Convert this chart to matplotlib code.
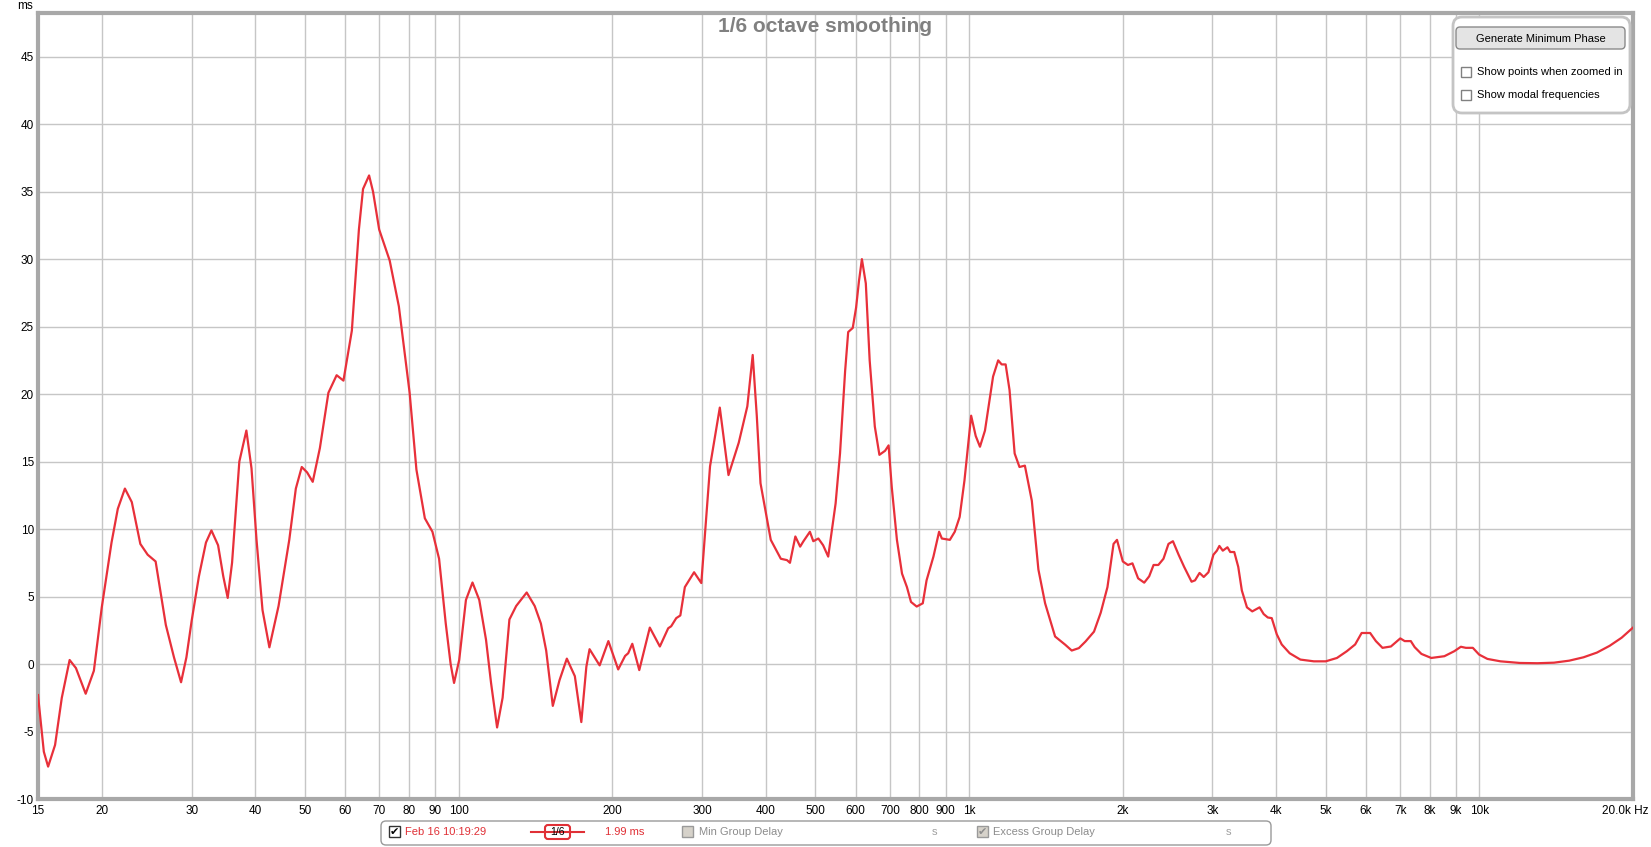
import numpy as np
import matplotlib
matplotlib.use("Agg")
import matplotlib.pyplot as plt
from matplotlib.patches import FancyBboxPatch, Rectangle

plt.rcParams['font.family'] = ['Liberation Sans', 'DejaVu Sans']
plt.rcParams['axes.unicode_minus'] = False

# group delay curve (Hz, ms)
freq = [15, 15.4, 15.7, 16.2, 16.7, 17.3, 17.8, 18.6, 19.3, 20, 20.9, 21.5, 22.2, 22.9, 23.8,
        24.6, 25.5, 26.7, 27.7, 28.6, 29.3, 30, 31, 32, 32.8, 33.8, 34.6, 35.3, 36, 37.2,
        38.4, 39.3, 40.2, 41.3, 42.6, 44.4, 46.6, 48, 49.3, 50.5, 51.8, 53.5, 55.6, 57.7,
        59.5, 61.8, 63.8, 65, 66.8, 68, 69.9, 73.3, 76.4, 80.2, 82.7, 85.9, 88.9, 91.6,
        94.4, 96.5, 98, 100.3, 103.4, 106.5, 109.8, 113.2, 115.8, 119, 122, 125.8, 129.7,
        136, 141, 145, 148.5, 153, 157.7, 163, 169, 174, 178, 180.6, 189, 196.6, 205.5,
        212, 215, 219, 226, 237, 248, 257.5, 261, 267, 272, 277.6, 289.4, 299, 311, 325,
        338, 354, 368, 377, 384, 390.5, 409, 428, 440, 446, 457, 467, 474, 488, 495.5,
        507, 518, 530, 548, 559, 572, 580, 592, 601, 609, 617, 628, 639, 654, 667.7, 685,
        696, 706, 722.6, 739.4, 756, 770, 790, 812, 826, 852, 874, 885, 917.5, 938, 959,
        980, 1010, 1031, 1051, 1075, 1115, 1141, 1159, 1180, 1201, 1229, 1256, 1287, 1328,
        1368, 1410, 1475, 1544, 1590, 1642, 1692, 1758, 1812, 1868, 1920, 1950, 2002,
        2049, 2091, 2145, 2205, 2255, 2300, 2350, 2405, 2460, 2510, 2575, 2640, 2730,
        2773, 2830, 2884, 2946, 3013, 3060, 3095, 3143, 3210, 3250, 3310, 3370, 3425,
        3505, 3590, 3710, 3780, 3850, 3920, 4010, 4100, 4250, 4460, 4740, 5000, 5260,
        5500, 5710, 5880, 6110, 6270, 6460, 6710, 7000, 7140, 7340, 7470, 7700, 8050,
        8540, 8930, 9200, 9410, 9710, 9990, 10370, 11000, 12000, 13000, 14000, 15000,
        16000, 17000, 18000, 19000, 20000]
delay = [-2.3, -6.5, -7.6, -6.0, -2.5, 0.3, -0.3, -2.2, -0.5, 4.2, 9.0, 11.5, 13.0, 12.0, 8.9,
         8.1, 7.6, 2.9, 0.5, -1.35, 0.5, 3.2, 6.5, 9.0, 9.9, 8.8, 6.5, 4.9, 7.5, 15.0,
         17.3, 14.5, 9.2, 4.0, 1.24, 4.3, 9.2, 13.0, 14.6, 14.2, 13.5, 16.0, 20.1, 21.4,
         21.0, 24.7, 32.2, 35.2, 36.2, 35.0, 32.2, 29.9, 26.5, 20.1, 14.4, 10.8, 9.8, 7.8,
         3.0, 0.0, -1.4, 0.3, 4.75, 6.04, 4.75, 1.8, -1.4, -4.7, -2.5, 3.3, 4.3,
         5.3, 4.3, 3.0, 1.0, -3.1, -1.2, 0.4, -0.9, -4.3, -0.2, 1.1, -0.1, 1.7, -0.4,
         0.6, 0.8, 1.5, -0.45, 2.7, 1.3, 2.65, 2.8, 3.4, 3.6, 5.7, 6.8, 6.0, 14.65, 19.0,
         14.0, 16.4, 19.1, 22.9, 18.4, 13.4, 9.2, 7.8, 7.7, 7.5, 9.45, 8.7, 9.1, 9.8, 9.1,
         9.3, 8.8, 7.96, 11.9, 15.6, 21.7, 24.6, 24.9, 26.4, 28.4, 30.0, 28.2, 22.5, 17.6, 15.5, 15.8,
         16.2, 13.1, 9.2, 6.7, 5.7, 4.6, 4.26, 4.5, 6.2, 7.96, 9.8, 9.3, 9.2, 9.8, 10.9,
         13.6, 18.4, 16.9, 16.1, 17.3, 21.3, 22.5, 22.2, 22.2, 20.3, 15.6, 14.6, 14.7, 12.1,
         7.0, 4.5, 2.04, 1.43, 1.0, 1.18, 1.67, 2.4, 3.8, 5.7, 8.9, 9.2, 7.6,
         7.34, 7.46, 6.35, 6.03, 6.5, 7.34, 7.34, 7.8, 8.9, 9.1, 8.1, 7.2, 6.1,
         6.2, 6.75, 6.45, 6.8, 8.1, 8.4, 8.75, 8.4, 8.65, 8.3, 8.3, 7.2, 5.45,
         4.2, 3.9, 4.2, 3.7, 3.45, 3.4, 2.2, 1.45, 0.8, 0.33, 0.2, 0.2, 0.45,
         0.95, 1.45, 2.3, 2.3, 1.7, 1.2, 1.3, 1.9, 1.7, 1.7, 1.25, 0.75, 0.45,
         0.58, 0.95, 1.28, 1.2, 1.2, 0.7, 0.38, 0.2, 0.08, 0.06, 0.1, 0.25,
         0.5, 0.85, 1.35, 1.95, 2.7]

xticks = [15, 20, 30, 40, 50, 60, 70, 80, 90, 100, 200, 300, 400, 500, 600, 700, 800, 900,
          1000, 2000, 3000, 4000, 5000, 6000, 7000, 8000, 9000, 10000]
xlabels = ['15', '20', '30', '40', '50', '60', '70', '80', '90', '100', '200', '300', '400',
           '500', '600', '700', '800', '900', '1k', '2k', '3k', '4k', '5k', '6k', '7k', '8k',
           '9k', '10k']
yticks = list(range(-10, 50, 5))

W, H = 1651, 847
fig = plt.figure(figsize=(W / 100, H / 100), dpi=100)

L, R, T, B = 38, 1633, 13.5, 799
ax = fig.add_axes([L / W, 1 - B / H, (R - L) / W, (B - T) / H])
ax.set_xscale('log')
ax.set_xlim(15, 20000)
ax.set_ylim(-10, 48.2)
ax.plot(freq, delay, color='#e8303a', lw=1.6, zorder=3, solid_joinstyle='round')

ax.set_xticks(xticks)
ax.set_xticklabels(xlabels)
ax.minorticks_off()
ax.set_yticks(yticks)
ax.grid(True, color='#c6c6c6', lw=1)
ax.tick_params(length=0, labelsize=8.5, colors='black', pad=4)
ax.tick_params(axis='y', pad=3)
for s in ax.spines.values():
    s.set_color('#a8a8a8')
    s.set_linewidth(3)

# overlay in pixel coords for the texts and widgets
ov = fig.add_axes([0, 0, 1, 1])
ov.set_xlim(0, W)
ov.set_ylim(H, 0)
ov.axis('off')

ov.text(33, 6, 'ms', ha='right', va='center', fontsize=8.5)
ov.text(1649, 811, '20.0k Hz', ha='right', va='center', fontsize=8.5)
ov.text(825, 27, '1/6 octave smoothing', ha='center', va='center', fontsize=15,
        fontweight='bold', color='#808080')

# top right panel
ov.add_patch(FancyBboxPatch((1453, 17), 177, 96, boxstyle='round,pad=0,rounding_size=9',
                            fc='white', ec='#c4c4c4', lw=2))
ov.add_patch(FancyBboxPatch((1456, 27), 169, 22, boxstyle='round,pad=0,rounding_size=4',
                            fc='#e4e4e4', ec='#8a8a8a', lw=1))
ov.text(1540.5, 38.5, 'Generate Minimum Phase', ha='center', va='center', fontsize=8)
for yy, txt in [(72, 'Show points when zoomed in'), (95, 'Show modal frequencies')]:
    ov.add_patch(Rectangle((1461, yy - 5), 10, 10, fc='white', ec='#808080', lw=1))
    ov.text(1477, yy, txt, ha='left', va='center', fontsize=8)

# bottom legend bar
ly = 832
ov.add_patch(FancyBboxPatch((381, 821), 890, 24, boxstyle='round,pad=0,rounding_size=5',
                            fc='white', ec='#9a9a9a', lw=1))
ov.add_patch(Rectangle((389, ly - 6), 11, 11, fc='white', ec='#333333', lw=1))
ov.text(394.5, ly, '✔', ha='center', va='center', fontsize=8, color='black')
ov.text(405, ly, 'Feb 16 10:19:29', ha='left', va='center', fontsize=8, color='#e03036')
ov.plot([531, 584], [ly, ly], color='#e03036', lw=1.5)
ov.add_patch(FancyBboxPatch((545, ly - 7), 25, 14, boxstyle='round,pad=0,rounding_size=3',
                            fc='white', ec='#e03036', lw=1.5))
ov.text(557.5, ly, '1/6', ha='center', va='center', fontsize=7.5, color='black')
ov.text(605, ly, '1.99 ms', ha='left', va='center', fontsize=8, color='#e03036')
ov.add_patch(Rectangle((682, ly - 6), 11, 11, fc='#d6d2ca', ec='#9a9a9a', lw=1))
ov.text(699, ly, 'Min Group Delay', ha='left', va='center', fontsize=8, color='#8c8c8c')
ov.text(934, ly, 's', ha='center', va='center', fontsize=8, color='#a0a0a0')
ov.add_patch(Rectangle((977, ly - 6), 11, 11, fc='#d6d2ca', ec='#9a9a9a', lw=1))
ov.text(982.5, ly, '✔', ha='center', va='center', fontsize=8, color='#8c8c8c')
ov.text(993, ly, 'Excess Group Delay', ha='left', va='center', fontsize=8, color='#8c8c8c')
ov.text(1228, ly, 's', ha='center', va='center', fontsize=8, color='#a0a0a0')

fig.savefig('out.png', dpi=100, facecolor='white')
